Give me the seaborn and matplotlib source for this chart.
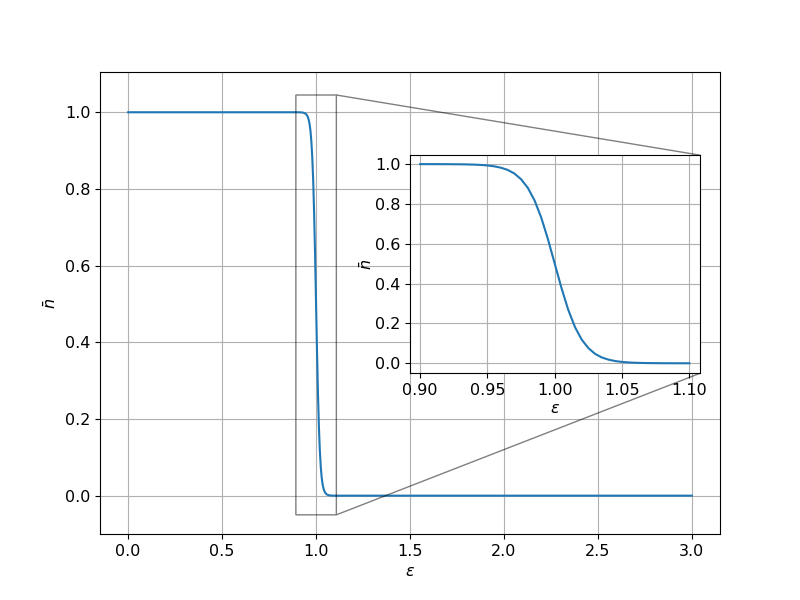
import numpy as np
import matplotlib
matplotlib.use("Agg")
import matplotlib.pyplot as plt
import seaborn as sns

# occupation values (eps 0.90 .. 1.10)
eps_step = [0.900, 0.905, 0.910, 0.915, 0.920, 0.925, 0.930, 0.935, 0.940, 0.945,
            0.950, 0.955, 0.960, 0.965, 0.970, 0.975, 0.980, 0.985, 0.990, 0.995,
            1.000, 1.005, 1.010, 1.015, 1.020, 1.025, 1.030, 1.035, 1.040, 1.045,
            1.050, 1.055, 1.060, 1.065, 1.070, 1.075, 1.080, 1.085, 1.090, 1.095, 1.100]
n_step = [1.0000, 0.9999, 0.9999, 0.9998, 0.9997, 0.9994, 0.9991, 0.9985, 0.9975, 0.9959,
          0.9933, 0.989, 0.982, 0.971, 0.953, 0.924, 0.881, 0.818, 0.731, 0.622,
          0.500, 0.378, 0.269, 0.182, 0.119, 0.076, 0.047, 0.029, 0.018, 0.011,
          0.0067, 0.0041, 0.0025, 0.0015, 0.0009, 0.0006, 0.0003, 0.0002, 0.0001, 0.0001, 0.0000]

# flat parts away from the step
eps_low = [0.0, 0.3, 0.6, 0.85]
n_low = [1.0, 1.0, 1.0, 1.0]
eps_high = [1.2, 1.6, 2.0, 2.5, 3.0]
n_high = [0.0, 0.0, 0.0, 0.0, 0.0]

eps_all = eps_low + eps_step + eps_high
n_all = n_low + n_step + n_high

plt.rcParams["font.size"] = 11.5

fig, ax = plt.subplots(figsize=(8, 6), dpi=100)
sns.lineplot(x=eps_all, y=n_all, ax=ax, color="C0", sort=False)
ax.set_xlabel(r"$\varepsilon$")
ax.set_ylabel(r"$\bar{n}$")
ax.set_ylim(-0.1, 1.105)
ax.grid(True)

axins = ax.inset_axes([0.5, 0.348, 0.468, 0.472])
sns.lineplot(x=eps_step, y=n_step, ax=axins, color="C0", sort=False)
axins.set_xlim(0.8925, 1.108)
axins.set_ylim(-0.05, 1.045)
axins.set_xlabel(r"$\varepsilon$", labelpad=2)
axins.set_ylabel(r"$\bar{n}$", labelpad=0)
axins.grid(True)
ax.indicate_inset_zoom(axins, edgecolor="black")

fig.savefig("out.png", dpi=100)
